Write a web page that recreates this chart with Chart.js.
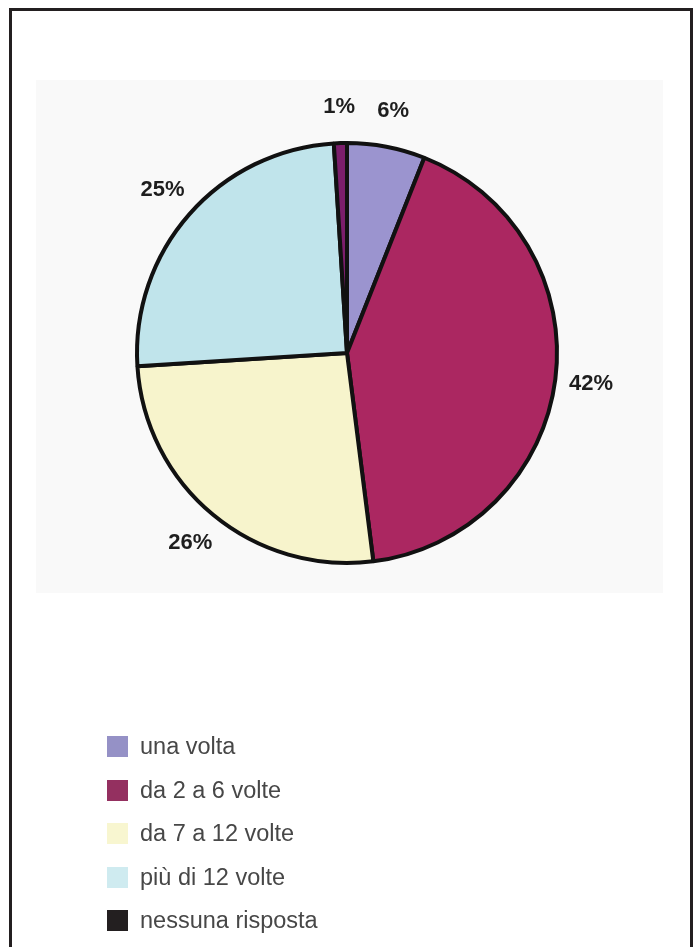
<!DOCTYPE html>
<html lang="it">
<head>
<meta charset="utf-8">
<title>Frequenza</title>
<script src="https://cdn.jsdelivr.net/npm/chart.js@4.4.1/dist/chart.umd.min.js"></script>
<style>
  html, body { margin: 0; padding: 0; background: #fff; overflow: hidden; }
  body { width: 698px; height: 947px; position: relative; font-family: "Liberation Sans", Arial, sans-serif; }
  .cornice {
    position: absolute; left: 9px; top: 8px; width: 684px; height: 1000px;
    box-sizing: border-box; border: 3px solid #231f20; border-bottom: none;
  }
  .sfondo { position: absolute; left: 36px; top: 80px; width: 627px; height: 513px; background: #f9f9f9; }
  #TortaChart { position: absolute; left: 0; top: 0; }
  .legenda { position: absolute; left: 107px; top: 725px; margin: 0; padding: 0; list-style: none; }
  .legenda li { display: flex; align-items: center; height: 43.5px; font-size: 23.5px; color: #474747; }
  .legenda span { display: inline-block; width: 21px; height: 21px; margin-right: 12px; }
</style>
</head>
<body>
<div class="cornice"></div>
<div class="sfondo"></div>
<canvas id="TortaChart" width="698" height="947"></canvas>
<ul class="legenda" id="legenda"></ul>

<script>
// categorie e percentuali (in senso orario partendo dall'alto)
const categorie = ['una volta', 'da 2 a 6 volte', 'da 7 a 12 volte', 'più di 12 volte', 'nessuna risposta'];
const percentuali = [6, 42, 26, 25, 1];

// colori delle fette e dei quadratini della legenda
const coloriFette = ['#9b94cf', '#ab2761', '#f7f4cc', '#c0e4eb', '#7b1e6c'];
const coloriLegenda = ['#9591c6', '#943060', '#f8f6d0', '#cfebf0', '#231f20'];

// scrive la percentuale fuori da ogni fetta
const etichettePlugin = {
    id: 'etichettePlugin',
    afterDatasetsDraw: (chart) => {
        const { ctx } = chart;
        const meta = chart.getDatasetMeta(0);
        ctx.save();
        ctx.font = 'bold 22px "Liberation Sans", Arial, sans-serif';
        ctx.fillStyle = '#1e1e1e';
        ctx.textAlign = 'center';
        ctx.textBaseline = 'middle';
        meta.data.forEach((arc, i) => {
            const { x, y, startAngle, endAngle, outerRadius } = arc.getProps(['x', 'y', 'startAngle', 'endAngle', 'outerRadius'], true);
            const angolo = (startAngle + endAngle) / 2;
            const r = outerRadius + 36;
            ctx.fillText(percentuali[i] + '%', x + Math.cos(angolo) * r, y + Math.sin(angolo) * r);
        });
        ctx.restore();
    }
};

const torta_chart = () => {
    const ctx = document.getElementById('TortaChart');
    if (!ctx) return;

    new Chart(ctx, {
        type: 'pie',
        data: {
            labels: categorie,
            datasets: [{
                data: percentuali,
                backgroundColor: coloriFette,
                borderColor: '#111',
                borderWidth: 4
            }]
        },
        options: {
            responsive: false,
            animation: false,
            // area del grafico quadrata attorno al centro della torta
            layout: { padding: { left: 135, right: 139, top: 141, bottom: 382 } },
            plugins: {
                legend: { display: false },
                tooltip: { enabled: false }
            }
        },
        plugins: [etichettePlugin]
    });
};

// legenda verticale sotto il grafico
const legenda = () => {
    const ul = document.getElementById('legenda');
    categorie.forEach((nome, i) => {
        const li = document.createElement('li');
        const quadrato = document.createElement('span');
        quadrato.style.background = coloriLegenda[i];
        li.appendChild(quadrato);
        li.appendChild(document.createTextNode(nome));
        ul.appendChild(li);
    });
};

document.addEventListener('DOMContentLoaded', () => {
    torta_chart();
    legenda();
});
</script>
</body>
</html>
